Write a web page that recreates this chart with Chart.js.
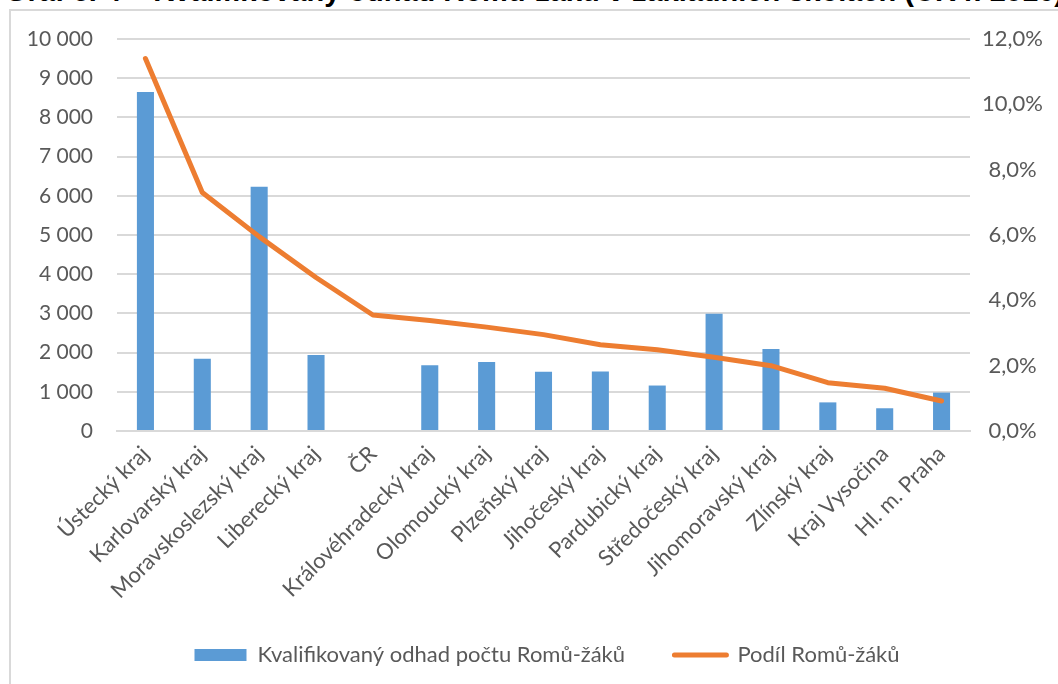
<!DOCTYPE html>
<html lang="cs">
<head>
<meta charset="utf-8">
<title>Graf č. 4</title>
<script src="https://cdn.jsdelivr.net/npm/chart.js@4/dist/chart.umd.min.js"></script>
<style>
  html, body { margin: 0; padding: 0; background: #fff; width: 1058px; height: 684px; overflow: hidden; position: relative; }
  #title { position: absolute; left: 5px; top: -20px; white-space: nowrap; font: bold 29px "Liberation Sans", Arial, sans-serif; line-height: 22px; color: #000; }
  #frame { position: absolute; left: 9px; top: 9px; width: 1200px; height: 800px; border: 2px solid #d9d9d9; }
  #wrap { position: absolute; left: 10px; top: 10px; width: 1074px; height: 674px; }
</style>
</head>
<body>
<div id="title">Graf č. 4 – Kvalifikovaný odhad Romů-žáků v základních školách (ČR r. 2016)</div>
<div id="frame"></div>
<div id="wrap"><canvas id="chart"></canvas></div>
<script>
// regions, sorted by share of Roma pupils
const regions = [
  'Ústecký kraj', 'Karlovarský kraj', 'Moravskoslezský kraj', 'Liberecký kraj', 'ČR',
  'Královéhradecký kraj', 'Olomoucký kraj', 'Plzeňský kraj', 'Jihočeský kraj', 'Pardubický kraj',
  'Středočeský kraj', 'Jihomoravský kraj', 'Zlínský kraj', 'Kraj Vysočina', 'Hl. m. Praha'
];
// estimated number of Roma pupils (left axis), no bar for ČR
const pupilCounts = [8650, 1840, 6230, 1940, null, 1680, 1760, 1510, 1520, 1160, 2990, 2090, 730, 580, 980];
// share of Roma pupils in % (right axis)
const pupilShare = [11.4, 7.3, 5.95, 4.7, 3.55, 3.38, 3.18, 2.95, 2.64, 2.49, 2.26, 2.0, 1.48, 1.31, 0.92];

const countLabel = 'Kvalifikovaný odhad počtu Romů-žáků';
const shareLabel = 'Podíl Romů-žáků';

const BLUE = '#5B9BD5';
const ORANGE = '#ED7D31';
const GRID = '#D9D9D9';
const TEXT = '#595959';
const FONT = 'Lato, "Open Sans", sans-serif';

const fmtCount = v => String(v).replace(/\B(?=(\d{3})+(?!\d))/g, ' ');
const fmtPct = v => v.toFixed(1).replace('.', ',') + '%';

new Chart(document.getElementById('chart'), {
  data: {
    labels: regions,
    datasets: [
      { type: 'bar', label: countLabel, data: pupilCounts, backgroundColor: BLUE, yAxisID: 'y', order: 2,
        barPercentage: 0.3, categoryPercentage: 1 },
      { type: 'line', label: shareLabel, data: pupilShare, borderColor: ORANGE, borderWidth: 5, yAxisID: 'y1', order: 1,
        pointRadius: 0, tension: 0, borderJoinStyle: 'round', borderCapStyle: 'round' }
    ]
  },
  options: {
    responsive: true, maintainAspectRatio: false, animation: false,
    layout: { padding: { top: 29, bottom: 8, left: 0, right: 0 } },
    plugins: {
      tooltip: { enabled: false },
      legend: {
        position: 'bottom',
        labels: {
          color: TEXT, font: { family: FONT, size: 22 }, padding: 10,
          usePointStyle: true, pointStyleWidth: 52, boxWidth: 52, boxHeight: 12,
          // trailing spaces keep the wide gap between the two legend items
          generateLabels: () => [
            { text: countLabel + '\u00a0\u00a0\u00a0\u00a0\u00a0\u00a0\u00a0', fillStyle: BLUE, strokeStyle: BLUE, lineWidth: 0, pointStyle: 'rect', fontColor: TEXT, datasetIndex: 0 },
            { text: shareLabel, fillStyle: ORANGE, strokeStyle: ORANGE, lineWidth: 5, lineCap: 'round', pointStyle: 'line', fontColor: TEXT, datasetIndex: 1 }
          ]
        }
      }
    },
    scales: {
      x: {
        grid: { display: false },
        border: { color: GRID, width: 2 },
        ticks: { color: TEXT, font: { family: FONT, size: 22 }, autoSkip: false, minRotation: 45, maxRotation: 45, padding: 2 },
        afterFit: s => { s.height = 203; }
      },
      y: {
        position: 'left', min: 0, max: 10000,
        // invisible tick marks give the label gap without padding the axis top
        grid: { color: GRID, lineWidth: 2, drawTicks: true, tickLength: 24, tickColor: 'rgba(0,0,0,0)' },
        border: { display: false },
        ticks: { stepSize: 1000, color: TEXT, font: { family: FONT, size: 21 }, padding: 0, callback: v => fmtCount(v) },
        afterFit: s => { s.width = 107; }
      },
      y1: {
        position: 'right', min: 0, max: 12,
        grid: { display: false, drawTicks: false },
        border: { display: false },
        ticks: { stepSize: 2, color: TEXT, font: { family: FONT, size: 22 }, padding: 12, crossAlign: 'center', callback: v => fmtPct(v) },
        afterFit: s => { s.width = 114; }
      }
    }
  }
});
</script>
</body>
</html>
